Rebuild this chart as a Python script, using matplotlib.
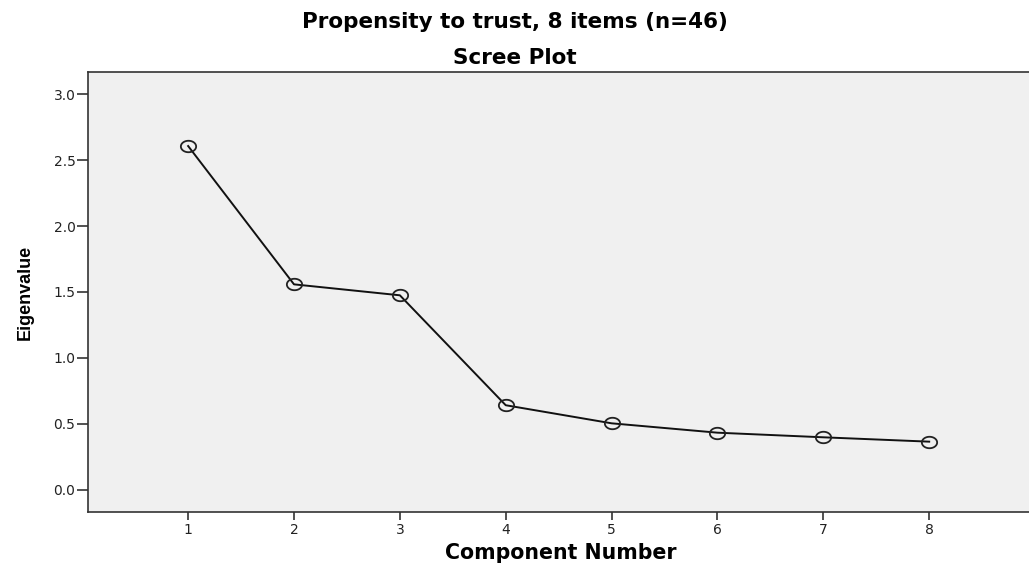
import matplotlib
matplotlib.use("Agg")
import numpy as np
import matplotlib.pyplot as plt
from matplotlib.path import Path

plt.rcParams["font.family"] = ["DejaVu Sans"]

# Scree plot values
components = [1, 2, 3, 4, 5, 6, 7, 8]
eigenvalues = [2.606, 1.558, 1.475, 0.642, 0.505, 0.434, 0.399, 0.366]
y_ticks = [0.0, 0.5, 1.0, 1.5, 2.0, 2.5, 3.0]

# the source image is stretched sideways, so markers come out as flat ellipses
th = np.linspace(0, 2 * np.pi, 60)
ellipse = Path(np.column_stack([np.cos(th), 0.75 * np.sin(th)]), closed=True)

fig = plt.figure(figsize=(10.29, 5.67), dpi=100)
ax = fig.add_axes([88 / 1029, 1 - 512 / 567, (1034 - 88) / 1029, 440 / 567])
ax.set_facecolor("#f0f0f0")

ax.plot(components, eigenvalues, color="#111111", lw=1.4,
        marker=ellipse, ms=11, mfc="none", mec="#222222", mew=1.3)

ax.set_xlim(0.054, 8.99)
ax.set_ylim(-0.167, 3.167)
ax.set_xticks(components)
ax.set_yticks(y_ticks)
ax.set_yticklabels([f"{v:.1f}" for v in y_ticks])

for side in ["left", "bottom", "top"]:
    ax.spines[side].set_color("#333333")
    ax.spines[side].set_linewidth(1.2)
ax.spines["right"].set_visible(False)

ax.tick_params(axis="y", direction="out", length=8, width=1.2, color="#333333",
               labelsize=10, labelcolor="#222222", pad=1)
ax.tick_params(axis="x", direction="out", length=6, width=1.2, color="#333333",
               labelsize=10, labelcolor="#222222", pad=2)

ax.set_xlabel("Component Number", fontsize=14.8, fontweight="bold", labelpad=4)
ax.set_ylabel("Eigenvalue", fontsize=13, fontweight="bold",
              family="Liberation Sans", labelpad=14)

fig.text(0.5, 1 - 22 / 567, "Propensity to trust, 8 items (n=46)", ha="center",
         va="center", fontsize=15.5, fontweight="bold")
fig.text(0.5, 1 - 58 / 567, "Scree Plot", ha="center", va="center",
         fontsize=15.5, fontweight="bold")

fig.savefig("out.png", dpi=100)
